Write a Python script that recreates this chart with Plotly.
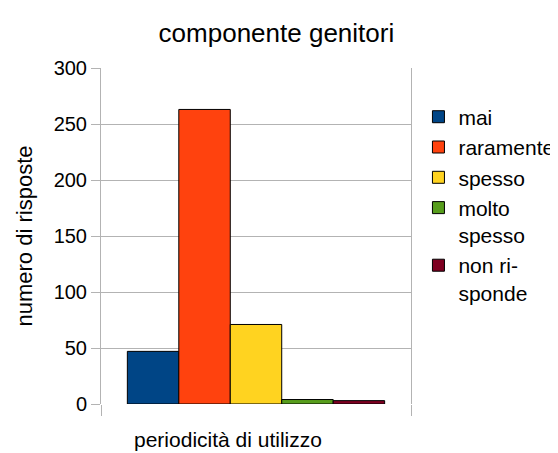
import plotly.graph_objects as go

# risposte per periodicità di utilizzo
categories = ['mai', 'raramente', 'spesso', 'molto<br>spesso', 'non ri-<br>sponde']
values = [47, 263, 71, 4, 3]
colors = ['#004586', '#ff420e', '#ffd320', '#579d1c', '#7e0021']

FONT = 'Liberation Sans, Arial, sans-serif'
GRID = '#b3b3b3'

# the page body keeps its default 8px margin, so the figure is sized to the
# visible area and everything is laid out 8px up/left of the reference
W, H = 550, 445


def make_figure():
    fig = go.Figure()

    for name, val, col in zip(categories, values, colors):
        fig.add_trace(go.Bar(
            x=[0],
            y=[val],
            name=name,
            marker=dict(color=col, line=dict(color='#000000', width=1)),
        ))

    fig.update_layout(
        width=W,
        height=H,
        margin=dict(l=93, r=147, t=60, b=49, autoexpand=False),
        paper_bgcolor='white',
        plot_bgcolor='white',
        font=dict(family=FONT, color='black'),
        barmode='group',
        bargap=0.17,
        bargroupgap=0,
        title=dict(
            text='componente genitori',
            x=0.488, xanchor='center',
            y=1 - 25 / H, yref='container', yanchor='middle',
            font=dict(size=26),
        ),
        legend=dict(
            x=1.024, xanchor='left',
            y=0.915, yanchor='top',
            valign='top',
            font=dict(size=21),
            tracegroupgap=0,
        ),
        annotations=[dict(
            text='periodicità di utilizzo',
            x=0.41, xref='paper', xanchor='center',
            y=-0.064, yref='paper', yanchor='top',
            showarrow=False,
            font=dict(size=21),
        )],
    )

    fig.update_xaxes(
        range=[-0.5, 0.5],
        tickvals=[-0.5, 0.5],
        showticklabels=False,
        ticks='outside', ticklen=11, tickcolor=GRID,
        showgrid=False, zeroline=False, showline=False,
    )

    fig.update_yaxes(
        range=[0, 300],
        dtick=50,
        ticks='outside', ticklen=9, tickcolor=GRID,
        tickfont=dict(size=20),
        showgrid=True, gridcolor=GRID,
        zeroline=False,
        showline=True, mirror=True, linecolor=GRID,
        automargin=False,
        title=dict(text='numero di risposte', font=dict(size=22), standoff=14),
    )

    return fig


def main():
    fig = make_figure()
    fig.write_html('out.html')


if __name__ == '__main__':
    main()
